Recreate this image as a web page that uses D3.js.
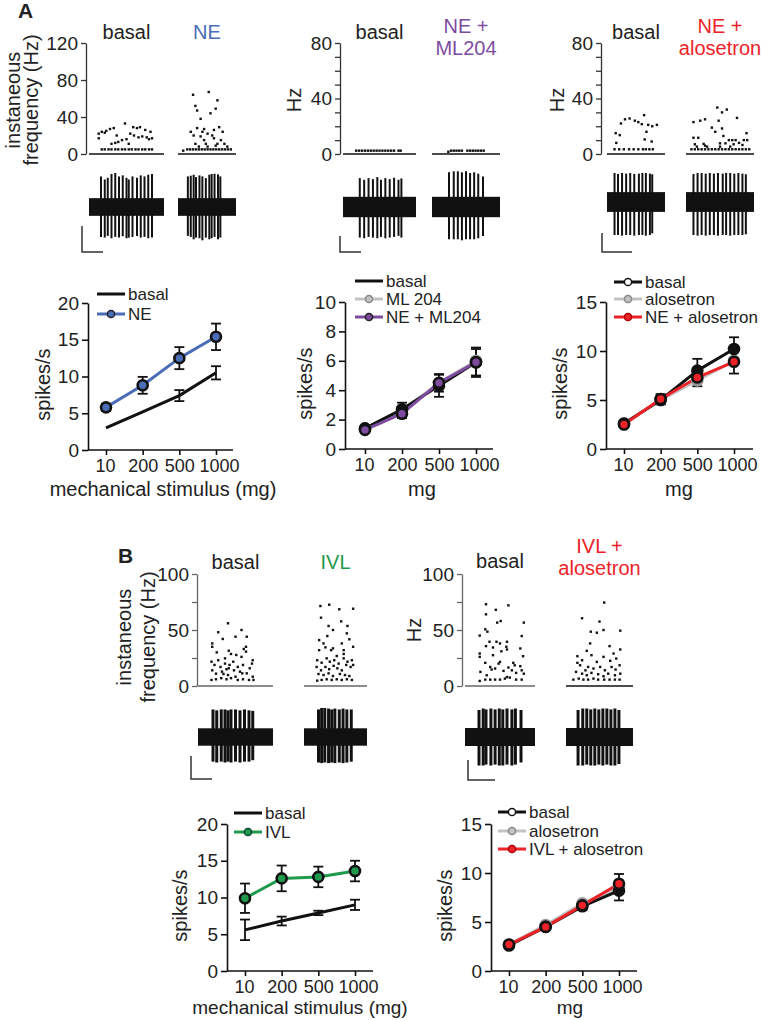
<!DOCTYPE html>
<html>
<head>
<meta charset="utf-8">
<script src="https://cdn.jsdelivr.net/npm/d3@7"></script>
<style>
body { margin: 0; background: #fff; }
svg { display: block; }
</style>
</head>
<body>
<script>
var width = 777;
var height = 1020;
var FONT = "Liberation Sans, Arial, Helvetica, sans-serif";

// ---------- data ----------
var doseLabels = ["10", "200", "500", "1000"];

// A: line charts (spikes/s)
var a1Basal = [3.0, 5.2, 7.4, 10.5];
var a1BasalErr = [0, 0, 0.75, 0.9];
var a1NE = [5.8, 8.8, 12.5, 15.4];
var a1NEErr = [0.5, 1.15, 1.5, 1.8];

var a2Basal = [1.4, 2.7, 4.3, 5.9];
var a2BasalErr = [0.1, 0.45, 0.75, 1.0];
var a2ML204 = [1.4, 2.6, 4.5, 6.0];
var a2NEML = [1.3, 2.4, 4.5, 5.9];
var a2NEMLErr = [0.1, 0.3, 0.6, 0.9];

var a3Basal = [2.6, 5.0, 8.0, 10.2];
var a3BasalErr = [0.15, 0.45, 1.2, 1.2];
var a3Alo = [2.6, 5.0, 7.0, 9.0];
var a3NEAlo = [2.5, 5.1, 7.3, 8.9];
var a3NEAloErr = [0.15, 0.5, 0.9, 1.2];

// B: line charts
var b1Basal = [5.6, 6.8, 7.9, 9.0];
var b1BasalErr = [1.4, 0.6, 0.3, 0.7];
var b1IVL = [9.9, 12.6, 12.8, 13.6];
var b1IVLErr = [2.0, 1.75, 1.4, 1.4];

var b2Basal = [2.6, 4.5, 6.6, 8.2];
var b2BasalErr = [0.15, 0.3, 0.4, 1.0];
var b2Alo = [2.7, 4.7, 6.9, 8.5];
var b2IVLAlo = [2.7, 4.5, 6.7, 8.9];
var b2IVLAloErr = [0.15, 0.25, 0.35, 1.0];

// rasters: [time (fraction of window), instantaneous frequency Hz]
var rA1Basal = [[0.17,5],[0.21,5],[0.26,5],[0.30,5],[0.35,5],[0.39,5],[0.44,5],[0.48,5],[0.53,5],[0.57,5],[0.62,5],[0.66,5],[0.71,5],[0.75,5],[0.80,5],[0.84,5],
  [0.13,17],[0.13,22],[0.17,24],[0.21,23],[0.23,25],[0.28,27],[0.33,28],[0.37,20],[0.30,11],[0.35,12],[0.39,13],[0.44,15],[0.48,33],[0.50,16],[0.53,11],
  [0.59,29],[0.64,28],[0.68,29],[0.71,19],[0.75,26],[0.77,18],[0.82,24],[0.84,17],[0.60,20],[0.66,18],[0.80,16],[0.55,22]];
var rA1NE = [[0.16,5],[0.21,5],[0.26,5],[0.31,5],[0.36,5],[0.41,5],[0.46,5],[0.51,5],[0.56,5],[0.61,5],[0.66,5],[0.71,5],[0.76,5],[0.81,5],[0.86,5],[0.91,5],
  [0.09,3.6],[0.26,64],[0.30,52],[0.33,47],[0.39,38],[0.22,24],[0.27,20],[0.33,28],[0.39,19],[0.42,24],[0.45,15],[0.48,11],[0.51,22],[0.53,67],[0.56,44],
  [0.59,20],[0.62,17],[0.65,49],[0.68,58],[0.71,29],[0.74,15],[0.77,24],[0.80,11],[0.30,11],[0.36,8],[0.51,8],[0.65,9],[0.68,11],[0.85,8],[0.62,26],[0.45,27]];
var rA2Basal = [[0.18,2.4],[0.22,2.4],[0.26,2.4],[0.30,2.4],[0.34,2.4],[0.38,2.4],[0.42,2.4],[0.46,2.4],[0.50,2.4],[0.54,2.4],[0.58,2.4],[0.62,2.4],[0.66,2.4],[0.70,2.4],[0.76,2.4],[0.79,2.4]];
var rA2NEML = [[0.24,1.6],[0.28,2.4],[0.32,2.4],[0.36,2.4],[0.40,2.4],[0.44,2.4],[0.52,2.4],[0.56,2.4],[0.60,2.4],[0.64,2.4],[0.68,2.4],[0.72,2.4],[0.76,2.4]];
var rA3Basal = [[0.13,3.4],[0.21,3.4],[0.29,3.4],[0.38,3.4],[0.46,3.4],[0.54,3.4],[0.62,3.4],[0.67,3.4],[0.73,3.4],[0.79,3.4],
  [0.15,15],[0.16,8],[0.22,13.6],[0.24,22],[0.31,25],[0.39,25.6],[0.48,24],[0.54,23],[0.60,21.5],[0.64,28],[0.65,10.5],[0.68,16],[0.71,21],[0.77,9],[0.78,20],[0.86,21]];
var rA3NEAlo = [[0.08,3.4],[0.13,3.4],[0.18,3.4],[0.23,3.4],[0.28,3.4],[0.33,3.4],[0.38,3.4],[0.43,3.4],[0.48,3.4],[0.53,3.4],[0.58,3.4],[0.63,3.4],[0.68,3.4],[0.73,3.4],[0.78,3.4],[0.83,3.4],[0.88,3.4],[0.93,3.4],
  [0.11,11.7],[0.18,11.7],[0.13,7],[0.26,7.3],[0.28,6],[0.11,23],[0.21,24],[0.28,25],[0.38,19],[0.43,16],[0.46,33.5],[0.48,24],[0.53,18.4],[0.53,30],[0.55,13],
  [0.60,32],[0.63,10],[0.68,10],[0.73,10],[0.75,26],[0.78,8],[0.83,6.5],[0.89,15],[0.90,10],[0.85,10],[0.50,7.7],[0.58,7.7],[0.70,7],[0.16,5.3],[0.31,5.3],[0.50,5.3],[0.65,5.3]];
var rB1Basal = [[0.27,48],[0.40,56],[0.58,50],[0.65,44],[0.50,44],[0.33,42],[0.19,38],[0.19,35],[0.25,30],[0.41,31.5],[0.44,28.6],[0.51,27.7],[0.58,26],[0.64,35],[0.64,30.7],
  [0.73,23],[0.72,20],[0.18,21.7],[0.22,18.8],[0.30,17],[0.36,20],[0.38,15],[0.42,18.8],[0.47,21.7],[0.53,17],[0.56,12.8],[0.60,18.8],[0.69,15.8],[0.19,14],[0.24,11],
  [0.32,12.8],[0.40,9.8],[0.48,14],[0.50,8.3],[0.59,11.3],[0.65,11.3],[0.73,8.3],[0.18,5.4],[0.24,6],[0.31,7],[0.38,6],[0.44,7],[0.53,5.4],[0.60,6],[0.68,5.4],[0.74,5.4],
  [0.34,10.7],[0.41,15.8],[0.27,23],[0.61,33],[0.36,24.7]];
var rB1IVL = [[0.26,71.4],[0.40,72.6],[0.56,68.5],[0.78,69],[0.27,61],[0.59,57.7],[0.39,53.6],[0.46,50],[0.69,53.6],[0.68,47],[0.24,41],[0.31,38],[0.37,44.6],[0.46,33.6],
  [0.60,38],[0.72,41.7],[0.63,28.6],[0.24,32],[0.34,34.5],[0.52,26.8],[0.78,35],[0.21,23],[0.28,20.8],[0.36,24.7],[0.41,21.7],[0.48,23],[0.55,20],[0.63,24.7],[0.69,21.7],
  [0.76,23],[0.20,17],[0.27,14],[0.34,17],[0.40,15],[0.47,18],[0.53,15.8],[0.60,14],[0.67,18.8],[0.74,17],[0.23,10.7],[0.31,9.8],[0.39,11.3],[0.46,8.9],[0.57,10.7],
  [0.65,9.8],[0.72,8.9],[0.21,4.8],[0.28,5.4],[0.36,6],[0.44,5.4],[0.52,6],[0.60,5.4],[0.68,6],[0.76,5.4],[0.78,18.8],[0.43,32],[0.63,32]];
var rB2Basal = [[0.30,73],[0.44,68],[0.62,72],[0.30,64],[0.46,56.6],[0.51,58],[0.84,56.6],[0.29,50.6],[0.32,48.5],[0.21,45],[0.81,44.6],[0.35,39.5],[0.45,39.5],[0.50,38],
  [0.60,39.5],[0.30,35.6],[0.40,34.4],[0.59,35],[0.60,32.6],[0.79,33.5],[0.21,29],[0.21,26],[0.40,27.5],[0.83,26.6],[0.52,31],[0.29,20.7],[0.36,17],[0.48,20],[0.69,20.7],
  [0.71,18.5],[0.79,17.7],[0.22,12.6],[0.31,9.6],[0.38,14.7],[0.43,15.6],[0.55,13.5],[0.62,16.5],[0.67,14],[0.73,11.7],[0.81,14],[0.84,11],[0.21,4.5],[0.29,5.7],
  [0.36,5.7],[0.43,5.7],[0.50,5.7],[0.57,6.6],[0.64,7.5],[0.73,5.7],[0.81,5.7],[0.50,21.5],[0.60,8]];
var rB2IVLAlo = [[0.24,60.5],[0.57,74.5],[0.50,57.5],[0.37,48.5],[0.46,47.6],[0.56,50],[0.81,49.4],[0.36,38],[0.65,35.6],[0.81,32.6],[0.31,31.4],[0.38,27.5],[0.17,26.6],
  [0.71,29],[0.17,20.7],[0.24,23],[0.46,21.5],[0.56,26],[0.66,22.5],[0.75,24.5],[0.80,18.5],[0.21,18.5],[0.29,14],[0.33,17],[0.41,15.6],[0.51,17],[0.58,14],[0.68,17],
  [0.74,14.7],[0.15,12.6],[0.24,11],[0.31,9.6],[0.38,11.7],[0.48,10.5],[0.56,8.7],[0.63,11],[0.73,9.6],[0.81,11],[0.11,5.7],[0.19,6.6],[0.26,5.7],[0.33,5.7],[0.41,6.6],
  [0.48,5.7],[0.57,5.7],[0.65,5.7],[0.73,5.7],[0.80,5.7]];

// traces: spikes [time fraction, up amplitude, down amplitude]
var tA1Basal = [[0.16,0.90,0.88],[0.21,0.81,0.90],[0.25,0.86,0.85],[0.30,0.97,0.92],[0.35,1.0,0.88],[0.40,0.90,0.90],[0.45,0.93,0.86],[0.50,0.86,0.92],
  [0.53,0.81,0.90],[0.58,0.90,0.88],[0.64,0.86,0.85],[0.69,0.93,0.90],[0.74,0.90,0.88],[0.79,0.95,0.92],[0.84,0.97,0.90]];
var tA1NE = [[0.17,0.90,0.85],[0.22,0.92,0.88],[0.27,0.95,0.95],[0.31,0.88,0.90],[0.37,0.93,0.92],[0.42,0.90,0.98],[0.48,0.85,0.90],[0.54,0.95,0.95],
  [0.58,0.97,0.92],[0.63,0.98,0.88],[0.69,0.96,0.95],[0.73,0.90,0.90]];
var tA2Basal = [[0.23,0.85,0.90],[0.29,0.80,0.92],[0.35,0.85,0.88],[0.41,0.82,0.90],[0.47,0.88,0.92],[0.52,0.80,0.88],[0.58,0.85,0.92],[0.64,0.82,0.90],
  [0.70,0.86,0.88],[0.76,0.80,0.85],[0.80,0.84,0.90]];
var tA2NEML = [[0.25,1.02,0.95],[0.32,1.05,0.95],[0.38,1.05,0.95],[0.44,1.02,0.98],[0.50,1.05,0.95],[0.56,1.0,0.95],[0.62,1.02,0.95],[0.68,0.98,0.92],[0.75,0.90,0.85]];
var tA3Basal = [[0.13,0.88,1.0],[0.19,0.85,1.0],[0.26,0.88,1.02],[0.33,0.86,1.0],[0.40,0.88,1.0],[0.47,0.85,1.02],[0.55,0.86,1.0],[0.61,0.88,1.0],
  [0.67,0.88,1.02],[0.74,0.86,1.0],[0.78,0.84,0.95]];
var tA3NEAlo = [[0.11,0.85,1.0],[0.17,0.88,1.02],[0.23,0.88,1.0],[0.29,0.86,1.02],[0.35,0.88,1.0],[0.41,0.86,1.0],[0.47,0.88,1.02],[0.54,0.86,1.0],
  [0.59,0.88,1.0],[0.65,0.88,1.02],[0.71,0.86,1.0],[0.77,0.88,1.0],[0.83,0.86,1.0],[0.88,0.84,0.98]];
var tB1Basal = [[0.20,0.95,0.85],[0.25,0.92,0.88],[0.31,0.95,0.85],[0.36,0.95,0.88],[0.40,0.92,0.85],[0.44,0.95,0.88],[0.50,0.95,0.85],[0.56,0.92,0.88],
  [0.62,0.95,0.85],[0.68,0.92,0.85],[0.73,0.90,0.80]];
var tB1IVL = [[0.23,0.95,0.88],[0.28,1.0,0.90],[0.33,1.0,0.88],[0.39,0.98,0.90],[0.44,0.95,0.88],[0.49,0.98,0.90],[0.56,0.95,0.88],[0.62,0.98,0.90],
  [0.68,0.95,0.88],[0.75,0.95,0.85]];
var tB2Basal = [[0.20,0.90,0.95],[0.26,0.95,0.95],[0.30,0.92,0.92],[0.37,0.95,0.95],[0.43,0.92,0.92],[0.49,0.95,0.95],[0.54,0.92,0.95],[0.60,0.95,0.92],
  [0.67,0.92,0.95],[0.72,0.95,0.92],[0.80,0.90,0.85]];
var tB2IVLAlo = [[0.18,0.90,0.95],[0.25,0.95,0.95],[0.31,0.95,0.92],[0.37,0.92,0.95],[0.43,0.95,0.95],[0.49,0.92,0.92],[0.55,0.95,0.95],[0.61,0.95,0.92],
  [0.67,0.92,0.95],[0.73,0.95,0.95],[0.79,0.90,0.90]];

// colours
var BLUE = "#4a6db6", PURPLE = "#7d4c9f", RED = "#ec2227", GREEN = "#1f9a4c", GRAY = "#c2c2c2";

var svg = d3.select("body").append("svg")
  .attr("width", width)
  .attr("height", height)
  .style("font-family", FONT);

function label(x, y, txt, opts) {
  opts = opts || {};
  var t = svg.append("text")
    .attr("x", x).attr("y", y)
    .attr("font-size", opts.size || 20)
    .attr("fill", opts.color || "#222")
    .attr("text-anchor", opts.anchor || "middle")
    .attr("font-weight", opts.weight || "normal")
    .text(txt);
  if (opts.rotate) t.attr("transform", "rotate(-90," + x + "," + y + ")");
  return t;
}

// ---------- raster + trace panels ----------
function rasterPanel(cfg) {
  var y = d3.scaleLinear().domain([0, cfg.max]).range([cfg.y0, cfg.yTop]);
  var g = svg.append("g").attr("transform", "translate(" + cfg.x + ",0)");
  g.call(d3.axisLeft(y).tickValues(cfg.ticks).tickSize(5).tickSizeOuter(0).tickPadding(3)
    .tickFormat(function(d) { return cfg.labels.indexOf(d) >= 0 ? d : ""; }));
  g.attr("font-family", FONT);
  g.selectAll("path, line").attr("stroke", cfg.axisColor).attr("stroke-width", 1.3);
  g.selectAll("text").attr("font-size", 19).attr("fill", "#222");

  cfg.windows.forEach(function(w) {
    var x = d3.scaleLinear().domain([0, 1]).range([w.x0, w.x1]);
    svg.append("line")
      .attr("x1", w.x0).attr("x2", w.x1)
      .attr("y1", cfg.y0).attr("y2", cfg.y0)
      .attr("stroke", w.baseColor || "#111").attr("stroke-width", 1.5);

    svg.append("g").selectAll("rect")
      .data(w.dots)
      .enter()
      .append("rect")
      .attr("x", function(d) { return x(d[0]) - 1.2; })
      .attr("y", function(d) { return y(d[1]) - 1.2; })
      .attr("width", 2.4).attr("height", 2.4)
      .attr("fill", "#111");

    // extracellular trace
    var ty = d3.scaleLinear().domain([-1, 1]).range([w.yc + cfg.amp, w.yc - cfg.amp]);
    svg.append("rect")
      .attr("x", w.x0).attr("width", w.x1 - w.x0)
      .attr("y", ty(cfg.noise)).attr("height", ty(-cfg.noise) - ty(cfg.noise))
      .attr("fill", "#111");
    svg.append("g").selectAll("line")
      .data(w.spikes)
      .enter()
      .append("line")
      .attr("x1", function(d) { return x(d[0]); })
      .attr("x2", function(d) { return x(d[0]); })
      .attr("y1", function(d) { return ty(d[1]); })
      .attr("y2", function(d) { return ty(-d[2]); })
      .attr("stroke", "#111")
      .attr("stroke-width", cfg.spikeWidth);

    w.title.forEach(function(line, i) {
      label((w.x0 + w.x1) / 2, w.titleY + i * 22, line, {color: w.color});
    });
  });

  // scale bar
  var sb = cfg.scaleBar;
  svg.append("path")
    .attr("d", "M" + sb.x + "," + sb.yTop + "V" + sb.y + "H" + (sb.x + sb.w))
    .attr("fill", "none").attr("stroke", "#333").attr("stroke-width", 1.5);

  cfg.ylabel.forEach(function(l) {
    label(l.x, l.y, l.text, {rotate: true});
  });
}

// ---------- dose-response line charts ----------
function lineChart(cfg) {
  var x = d3.scalePoint().domain(doseLabels).range([cfg.xFirst, cfg.xLast]);
  var y = d3.scaleLinear().domain([0, cfg.max]).range([cfg.y0, cfg.yTop]);

  var gy = svg.append("g").attr("transform", "translate(" + cfg.x + ",0)")
    .call(d3.axisLeft(y).tickValues(cfg.ticks).tickSize(6).tickSizeOuter(0).tickPadding(3));
  var gx = svg.append("g").attr("transform", "translate(0," + cfg.y0 + ")")
    .call(d3.axisBottom(x).tickSize(5).tickSizeOuter(0).tickPadding(4));
  gx.select(".domain").remove();
  [gx, gy].forEach(function(g) {
    g.attr("font-family", FONT);
    g.selectAll("path, line").attr("stroke", "#111").attr("stroke-width", 1.6);
    g.selectAll("text").attr("fill", "#222");
  });
  gy.selectAll("text").attr("font-size", 19);
  gx.selectAll("text").attr("font-size", 18)
    .attr("dx", function(d) { return d === "1000" ? 3 : (d === "10" ? -1 : 0); });
  svg.append("line")
    .attr("x1", cfg.x).attr("x2", cfg.xEnd)
    .attr("y1", cfg.y0).attr("y2", cfg.y0)
    .attr("stroke", "#111").attr("stroke-width", 1.6);

  var line = d3.line()
    .x(function(d, i) { return x(doseLabels[i]); })
    .y(function(d) { return y(d); });

  cfg.series.forEach(function(s) {
    svg.append("path")
      .datum(s.values)
      .attr("d", line)
      .attr("fill", "none")
      .attr("stroke", s.color)
      .attr("stroke-width", 3)
      .attr("stroke-linejoin", "round");
  });

  cfg.series.forEach(function(s) {
    if (!s.err) return;
    var eb = svg.append("g").selectAll("g")
      .data(s.values.map(function(v, i) { return {v: v, e: s.err[i], k: doseLabels[i]}; })
        .filter(function(d) { return d.e > 0; }))
      .enter().append("g");
    eb.append("line")
      .attr("x1", function(d) { return x(d.k); }).attr("x2", function(d) { return x(d.k); })
      .attr("y1", function(d) { return y(d.v - d.e); }).attr("y2", function(d) { return y(d.v + d.e); })
      .attr("stroke", "#111").attr("stroke-width", 1.8);
    [-1, 1].forEach(function(sgn) {
      eb.append("line")
        .attr("x1", function(d) { return x(d.k) - 5; }).attr("x2", function(d) { return x(d.k) + 5; })
        .attr("y1", function(d) { return y(d.v + sgn * d.e); }).attr("y2", function(d) { return y(d.v + sgn * d.e); })
        .attr("stroke", "#111").attr("stroke-width", 1.8);
    });
  });

  cfg.series.forEach(function(s) {
    if (!s.markerFill) return;
    svg.append("g").selectAll("circle")
      .data(s.values)
      .enter()
      .append("circle")
      .attr("cx", function(d, i) { return x(doseLabels[i]); })
      .attr("cy", function(d) { return y(d); })
      .attr("r", 5)
      .attr("fill", s.markerFill)
      .attr("stroke", s.markerStroke)
      .attr("stroke-width", 2.6);
  });

  // legend
  cfg.legend.forEach(function(l, i) {
    var ly = cfg.legendY[i];
    svg.append("line")
      .attr("x1", cfg.legendX).attr("x2", cfg.legendX + 28)
      .attr("y1", ly).attr("y2", ly)
      .attr("stroke", l.color).attr("stroke-width", 3);
    if (l.fill) {
      svg.append("circle")
        .attr("cx", cfg.legendX + 14).attr("cy", ly).attr("r", 3.6)
        .attr("fill", l.fill).attr("stroke", l.stroke).attr("stroke-width", 1.5);
    }
    label(cfg.legendX + 31, ly + 6, l.text, {anchor: "start", size: 17});
  });

  label(cfg.ylabelX, (cfg.y0 + cfg.yTop) / 2 + 8, "spikes/s", {rotate: true});
  label(cfg.xlabelX, cfg.xlabelY, cfg.xlabel, {size: cfg.xlabelSize || 20});
}

// ---------- panel labels ----------
label(18, 18, "A", {anchor: "start", weight: "bold", size: 21});
label(118, 563, "B", {anchor: "start", weight: "bold", size: 21});

// ---------- panel A rasters ----------
rasterPanel({
  x: 86, y0: 154, yTop: 43, max: 120, ticks: [0, 40, 80, 120], labels: [0, 40, 80, 120],
  axisColor: "#333", amp: 34, noise: 0.26, spikeWidth: 2,
  windows: [
    {x0: 89, x1: 164, dots: rA1Basal, spikes: tA1Basal, yc: 207, title: ["basal"], titleY: 39},
    {x0: 178, x1: 236, dots: rA1NE, spikes: tA1NE, yc: 207, title: ["NE"], titleY: 39, color: BLUE}
  ],
  scaleBar: {x: 82, y: 252, yTop: 226, w: 21},
  ylabel: [{x: 20, y: 100, text: "instaneous"}, {x: 38, y: 100, text: "frequency (Hz)"}]
});
rasterPanel({
  x: 340, y0: 154, yTop: 43, max: 80, ticks: d3.range(0, 81, 10), labels: [0, 40, 80],
  axisColor: "#333", amp: 34, noise: 0.3, spikeWidth: 2,
  windows: [
    {x0: 343, x1: 416, dots: rA2Basal, spikes: tA2Basal, yc: 207, title: ["basal"], titleY: 39},
    {x0: 432, x1: 500, dots: rA2NEML, spikes: tA2NEML, yc: 207, title: ["NE +", "ML204"], titleY: 33, color: PURPLE}
  ],
  scaleBar: {x: 340, y: 252, yTop: 236, w: 21},
  ylabel: [{x: 301, y: 100, text: "Hz"}]
});
rasterPanel({
  x: 601, y0: 154, yTop: 43, max: 80, ticks: d3.range(0, 81, 10), labels: [0, 40, 80],
  axisColor: "#333", amp: 33, noise: 0.3, spikeWidth: 2,
  windows: [
    {x0: 607, x1: 665, dots: rA3Basal, spikes: tA3Basal, yc: 202, title: ["basal"], titleY: 39},
    {x0: 686, x1: 754, dots: rA3NEAlo, spikes: tA3NEAlo, yc: 202, title: ["NE +", "alosetron"], titleY: 33, color: RED}
  ],
  scaleBar: {x: 602, y: 252, yTop: 233, w: 30},
  ylabel: [{x: 564, y: 100, text: "Hz"}]
});

// ---------- panel A line charts ----------
lineChart({
  x: 88, xEnd: 233, xFirst: 106, xLast: 216, y0: 450, yTop: 303, max: 20, ticks: [0, 5, 10, 15, 20],
  series: [
    {values: a1Basal, color: "#111", err: a1BasalErr},
    {values: a1NE, color: BLUE, err: a1NEErr, markerFill: BLUE, markerStroke: "#111"}
  ],
  legend: [{text: "basal", color: "#111"}, {text: "NE", color: BLUE, fill: BLUE, stroke: "#223"}],
  legendX: 97, legendY: [294, 314],
  ylabelX: 50, xlabel: "mechanical stimulus (mg)", xlabelX: 163, xlabelY: 496
});
lineChart({
  x: 345, xEnd: 493, xFirst: 365, xLast: 476, y0: 449, yTop: 302, max: 10, ticks: [0, 2, 4, 6, 8, 10],
  series: [
    {values: a2ML204, color: GRAY, markerFill: GRAY, markerStroke: "#999"},
    {values: a2Basal, color: "#111", err: a2BasalErr, markerFill: "#111", markerStroke: "#111"},
    {values: a2NEML, color: PURPLE, err: a2NEMLErr, markerFill: PURPLE, markerStroke: "#111"}
  ],
  legend: [{text: "basal", color: "#111"}, {text: "ML 204", color: GRAY, fill: GRAY, stroke: "#888"},
    {text: "NE + ML204", color: PURPLE, fill: PURPLE, stroke: "#222"}],
  legendX: 355, legendY: [281, 299, 317],
  ylabelX: 312, xlabel: "mg", xlabelX: 422, xlabelY: 496
});
lineChart({
  x: 606, xEnd: 753, xFirst: 624, xLast: 734, y0: 449, yTop: 302, max: 15, ticks: [0, 5, 10, 15],
  series: [
    {values: a3Alo, color: GRAY, markerFill: GRAY, markerStroke: "#999"},
    {values: a3Basal, color: "#111", err: a3BasalErr, markerFill: "#111", markerStroke: "#111"},
    {values: a3NEAlo, color: RED, err: a3NEAloErr, markerFill: RED, markerStroke: "#111"}
  ],
  legend: [{text: "basal", color: "#111", fill: "#fff", stroke: "#111"}, {text: "alosetron", color: GRAY, fill: GRAY, stroke: "#888"},
    {text: "NE + alosetron", color: RED, fill: RED, stroke: "#a00"}],
  legendX: 614, legendY: [282, 299, 317],
  ylabelX: 567, xlabel: "mg", xlabelX: 679, xlabelY: 496
});

// ---------- panel B rasters ----------
rasterPanel({
  x: 197, y0: 686, yTop: 574, max: 100, ticks: [0, 25, 50, 75, 100], labels: [0, 50, 100],
  axisColor: "#666", amp: 29, noise: 0.3, spikeWidth: 3,
  windows: [
    {x0: 198, x1: 273, dots: rB1Basal, spikes: tB1Basal, yc: 737, title: ["basal"], titleY: 569, baseColor: "#666"},
    {x0: 304, x1: 367, dots: rB1IVL, spikes: tB1IVL, yc: 737, title: ["IVL"], titleY: 569, color: GREEN, baseColor: "#666"}
  ],
  scaleBar: {x: 191, y: 779, yTop: 756, w: 21},
  ylabel: [{x: 131, y: 637, text: "instaneous"}, {x: 155, y: 637, text: "frequency (Hz)"}]
});
rasterPanel({
  x: 462, y0: 686, yTop: 574, max: 100, ticks: [0, 25, 50, 75, 100], labels: [0, 50, 100],
  axisColor: "#666", amp: 30, noise: 0.3, spikeWidth: 3,
  windows: [
    {x0: 465, x1: 535, dots: rB2Basal, spikes: tB2Basal, yc: 737, title: ["basal"], titleY: 568, baseColor: "#666"},
    {x0: 566, x1: 633, dots: rB2IVLAlo, spikes: tB2IVLAlo, yc: 737, title: ["IVL +", "alosetron"], titleY: 553, color: RED}
  ],
  scaleBar: {x: 468, y: 780, yTop: 760, w: 27},
  ylabel: [{x: 421, y: 630, text: "Hz"}]
});

// ---------- panel B line charts ----------
lineChart({
  x: 227, xEnd: 373, xFirst: 245, xLast: 355, y0: 971, yTop: 824, max: 20, ticks: [0, 5, 10, 15, 20],
  series: [
    {values: b1Basal, color: "#111", err: b1BasalErr},
    {values: b1IVL, color: GREEN, err: b1IVLErr, markerFill: GREEN, markerStroke: "#111"}
  ],
  legend: [{text: "basal", color: "#111"}, {text: "IVL", color: GREEN, fill: GREEN, stroke: "#143"}],
  legendX: 234, legendY: [813, 832],
  ylabelX: 187, xlabel: "mechanical stimulus (mg)", xlabelX: 300, xlabelY: 1014, xlabelSize: 19
});
lineChart({
  x: 491, xEnd: 637, xFirst: 509, xLast: 619, y0: 971, yTop: 824, max: 15, ticks: [0, 5, 10, 15],
  series: [
    {values: b2Alo, color: GRAY, markerFill: GRAY, markerStroke: "#999"},
    {values: b2Basal, color: "#111", err: b2BasalErr, markerFill: "#111", markerStroke: "#111"},
    {values: b2IVLAlo, color: RED, err: b2IVLAloErr, markerFill: RED, markerStroke: "#111"}
  ],
  legend: [{text: "basal", color: "#111", fill: "#fff", stroke: "#111"}, {text: "alosetron", color: GRAY, fill: GRAY, stroke: "#888"},
    {text: "IVL + alosetron", color: RED, fill: RED, stroke: "#a00"}],
  legendX: 498, legendY: [812, 831, 849],
  ylabelX: 452, xlabel: "mg", xlabelX: 570, xlabelY: 1014, xlabelSize: 19
});
</script>
</body>
</html>
